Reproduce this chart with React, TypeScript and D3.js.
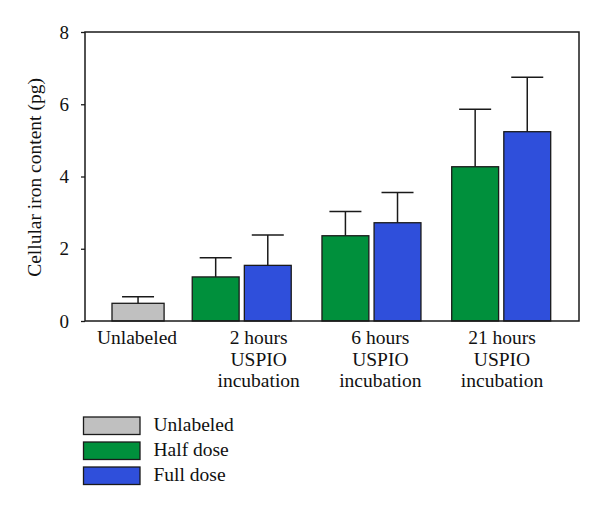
import React, { useEffect, useRef } from 'react';
import * as d3 from 'd3';

// category labels (one entry per line of text)
const categories = ['Unlabeled', '2h', '6h', '21h'];
const categoryLines = [
    ['Unlabeled'],
    ['2 hours', 'USPIO', 'incubation'],
    ['6 hours', 'USPIO', 'incubation'],
    ['21 hours', 'USPIO', 'incubation'],
];

// mean and standard deviation, pg iron per cell
const unlabeledValues = [0.49, null, null, null];
const unlabeledErrors = [0.18, null, null, null];
const halfDoseValues = [null, 1.22, 2.36, 4.27];
const halfDoseErrors = [null, 0.53, 0.67, 1.59];
const fullDoseValues = [null, 1.54, 2.72, 5.24];
const fullDoseErrors = [null, 0.84, 0.84, 1.51];

const yTicks = [0, 2, 4, 6, 8];
const legendItems = ['Unlabeled', 'Half dose', 'Full dose'];

const colors: Record<string, string> = {
    'Unlabeled': '#c0c0c0',
    'Half dose': '#00903c',
    'Full dose': '#2f4fdb',
};

const FONT = '"Liberation Serif", "Times New Roman", serif';

const Chart: React.FC = () => {
    const chartRef = useRef<SVGSVGElement>(null);

    useEffect(() => {
        const width = 600;
        const height = 511;
        const frame = { left: 85, right: 579, top: 32, bottom: 321 };

        d3.select(chartRef.current).selectAll('*').remove();

        const svg = d3.select(chartRef.current)
            .attr('width', width)
            .attr('height', height)
            .style('font-family', FONT);

        const y = d3.scaleLinear().domain([0, 8]).range([frame.bottom, frame.top]);

        // group bands; each group holds a half dose and a full dose slot
        const x = d3.scaleBand<string>()
            .domain(categories)
            .range([62.5, 550.7])
            .paddingInner(0.237)
            .paddingOuter(0);

        const sub = d3.scaleBand<string>()
            .domain(['Half dose', 'Full dose'])
            .range([0, x.bandwidth()])
            .paddingInner(0.1);

        // tick labels are evenly spaced on their own
        const xLabel = d3.scalePoint<string>()
            .domain(categories)
            .range([137, 502]);

        type Bar = { key: string; value: number; err: number; x0: number; w: number };
        const bars: Bar[] = [];
        categories.forEach((c, i) => {
            const g = x(c)!;
            if (unlabeledValues[i] != null) {
                // the unlabeled bar sits in the full-dose slot and is a little wider
                const cx = g + sub('Full dose')! + sub.bandwidth() / 2;
                const w = sub.step();
                bars.push({ key: 'Unlabeled', value: unlabeledValues[i]!, err: unlabeledErrors[i]!, x0: cx - w / 2, w });
            }
            if (halfDoseValues[i] != null) {
                bars.push({ key: 'Half dose', value: halfDoseValues[i]!, err: halfDoseErrors[i]!, x0: g + sub('Half dose')!, w: sub.bandwidth() });
            }
            if (fullDoseValues[i] != null) {
                bars.push({ key: 'Full dose', value: fullDoseValues[i]!, err: fullDoseErrors[i]!, x0: g + sub('Full dose')!, w: sub.bandwidth() });
            }
        });

        // error bars (upper only), drawn behind the bars
        const capHalf = 16;
        const eb = svg.append('g').attr('stroke', '#1a1a1a').attr('stroke-width', 1.5);
        bars.forEach(b => {
            const cx = b.x0 + b.w / 2;
            eb.append('line')
                .attr('x1', cx).attr('x2', cx)
                .attr('y1', y(b.value)).attr('y2', y(b.value + b.err));
            eb.append('line')
                .attr('x1', cx - capHalf).attr('x2', cx + capHalf)
                .attr('y1', y(b.value + b.err)).attr('y2', y(b.value + b.err));
        });

        svg.append('g')
            .selectAll('rect')
            .data(bars)
            .enter()
            .append('rect')
            .attr('x', d => d.x0)
            .attr('y', d => y(d.value))
            .attr('width', d => d.w)
            .attr('height', d => y(0) - y(d.value))
            .attr('fill', d => colors[d.key])
            .attr('stroke', '#1a1a1a')
            .attr('stroke-width', 1.3);

        // frame
        svg.append('rect')
            .attr('x', frame.left)
            .attr('y', frame.top)
            .attr('width', frame.right - frame.left)
            .attr('height', frame.bottom - frame.top)
            .attr('fill', 'none')
            .attr('stroke', '#1a1a1a')
            .attr('stroke-width', 1.5);

        // y axis
        const yAxis = svg.append('g').attr('transform', `translate(${frame.left},0)`)
            .call(d3.axisLeft(y).tickValues(yTicks).tickSize(4).tickPadding(12).tickFormat(d3.format('d')));
        yAxis.select('.domain').remove();
        yAxis.selectAll('.tick line').attr('stroke', '#1a1a1a').attr('stroke-width', 1.3);
        yAxis.selectAll('.tick text')
            .attr('font-family', FONT)
            .attr('font-size', 19)
            .attr('fill', '#111');

        svg.append('text')
            .attr('transform', `translate(41,${(frame.top + frame.bottom) / 2 + 1}) rotate(-90)`)
            .attr('text-anchor', 'middle')
            .attr('font-size', 19.5)
            .attr('fill', '#111')
            .text('Cellular iron content (pg)');

        // category labels
        const lab = svg.append('g')
            .attr('font-size', 19.5)
            .attr('fill', '#111')
            .attr('text-anchor', 'middle');
        categories.forEach((c, i) => {
            const t = lab.append('text').attr('x', xLabel(c)!).attr('y', 344);
            categoryLines[i].forEach((line, j) => {
                t.append('tspan')
                    .attr('x', xLabel(c)!)
                    .attr('dy', j === 0 ? 0 : 21.5)
                    .text(line);
            });
        });

        // legend
        const legend = svg.append('g').attr('transform', 'translate(83.5,417)');
        legendItems.forEach((item, i) => {
            const row = legend.append('g').attr('transform', `translate(0,${i * 25})`);
            row.append('rect')
                .attr('width', 56.5)
                .attr('height', 17.5)
                .attr('fill', colors[item])
                .attr('stroke', '#1a1a1a')
                .attr('stroke-width', 1.3);
            row.append('text')
                .attr('x', 70)
                .attr('y', 14)
                .attr('font-size', 19.5)
                .attr('fill', '#111')
                .text(item);
        });
    }, []);

    return <svg ref={chartRef} style={{ position: 'absolute', left: 0, top: 0, background: '#fff' }}></svg>;
};

export default function App() {
    return <Chart />;
}
